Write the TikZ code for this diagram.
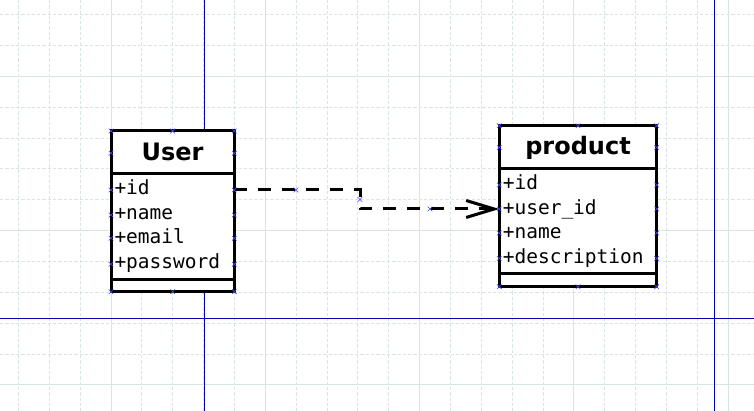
\documentclass[tikz,border=0pt]{standalone}
\usepackage{fontspec}
\usetikzlibrary{arrows.meta}
\newfontfamily\titlefont{DejaVu Sans}[BoldFont={DejaVu Sans Bold}]
\newfontfamily\rowfont{DejaVu Sans Mono}
\definecolor{gridc}{RGB}{216,230,226}
\definecolor{pageblue}{RGB}{0,0,180}
\definecolor{cpblue}{RGB}{70,70,255}
\tikzset{
  umlbox/.style={draw=black, line width=3pt, fill=white, rectangle, inner sep=0pt, outer sep=0pt},
  umltitle/.style={font=\titlefont\bfseries\fontsize{24}{24}\selectfont, inner sep=0pt},
  umlrow/.style={font=\rowfont\fontsize{19.5}{19.5}\selectfont, inner sep=0pt, anchor=base west},
  sepline/.style={line width=3pt},
  minorgrid/.style={gridc, line width=0.9pt, dash pattern=on 3.3pt off 2pt},
  majorgrid/.style={gridc, line width=0.9pt},
  pageline/.style={pageblue, line width=1pt},
  cp/.style={cpblue, line width=0.6pt},
  depline/.style={line width=3pt, dash pattern=on 13pt off 11pt, -{Straight Barb[length=28pt,width=17pt]}},
}
\newcommand\cpmark[1]{\draw[cp] (#1) +(-2.3,-2.3) -- +(2.3,2.3) +(-2.3,2.3) -- +(2.3,-2.3);}
\begin{document}
\begin{tikzpicture}[x=1pt,y=-1pt]
\useasboundingbox (0,0) rectangle (754,411);
\clip (0,0) rectangle (754,411);
\fill[white] (0,0) rectangle (754,411);
% grid
\foreach \i in {0,...,26}{
  \pgfmathsetmacro\gx{-43.3+\i*30.86}
  \pgfmathtruncatemacro\gm{mod(\i,5)}
  \ifnum\gm=0
    \draw[majorgrid] (\gx,0) -- (\gx,411);
  \else
    \draw[minorgrid] (\gx,0) -- (\gx,411);
  \fi
}
\foreach \j in {0,...,16}{
  \pgfmathsetmacro\gy{-78+\j*30.86}
  \pgfmathtruncatemacro\gm{mod(\j,5)}
  \ifnum\gm=0
    \draw[majorgrid] (0,\gy) -- (754,\gy);
  \else
    \draw[minorgrid] (0,\gy) -- (754,\gy);
  \fi
}
% page boundaries
\draw[pageline] (204.3,0) -- (204.3,411);
\draw[pageline] (714.3,0) -- (714.3,411);
\draw[pageline] (0,318.3) -- (754,318.3);

% User class
\node[umlbox, minimum width=123.3pt, minimum height=160.7pt] (user) at (172.65,211.35) {};
\draw[sepline] (user.west |- 0,173.3) -- (user.east |- 0,173.3);
\draw[sepline] (user.west |- 0,279.3) -- (user.east |- 0,279.3);
\node[umltitle] (usertitle) at (172.65,152.2) {User};
\node[umlrow] (u1) at (114.3,194.4) {+id};
\node[umlrow] (u2) at (114.3,219.1) {+name};
\node[umlrow] (u3) at (114.3,243.8) {+email};
\node[umlrow] (u4) at (114.3,268.5) {+password};

% product class
\node[umlbox, minimum width=157.4pt, minimum height=161pt] (product) at (578,206.2) {};
\draw[sepline] (product.west |- 0,169) -- (product.east |- 0,169);
\draw[sepline] (product.west |- 0,273.3) -- (product.east |- 0,273.3);
\node[umltitle] (producttitle) at (578,147.6) {product};
\node[umlrow] (p1) at (502.6,189.6) {+id};
\node[umlrow] (p2) at (502.6,214.3) {+user\_id};
\node[umlrow] (p3) at (502.6,239.0) {+name};
\node[umlrow] (p4) at (502.6,263.7) {+description};

% dependency connector
\coordinate (cs) at (user.east |- 0,190);
\coordinate (cb1) at (360,190);
\coordinate (cb2) at (360,209);
\coordinate (ce) at (product.west |- 0,209);
\draw[depline] (cs) -- (cb1) -- (cb2) -- (ce);

% connection point marks
\foreach \n in {user,product}{
  \cpmark{\n.north west}\cpmark{\n.north}\cpmark{\n.north east}
  \cpmark{\n.south west}\cpmark{\n.south}\cpmark{\n.south east}
}
\foreach \y in {153.3,190,215,238.3,264.3}{
  \cpmark{user.west |- 0,\y}\cpmark{user.east |- 0,\y}
}
\foreach \y in {147.5,185,209,233,258.5}{
  \cpmark{product.west |- 0,\y}\cpmark{product.east |- 0,\y}
}
\cpmark{296,190}
\cpmark{360,199.5}
\cpmark{430,209}
\end{tikzpicture}
\end{document}
